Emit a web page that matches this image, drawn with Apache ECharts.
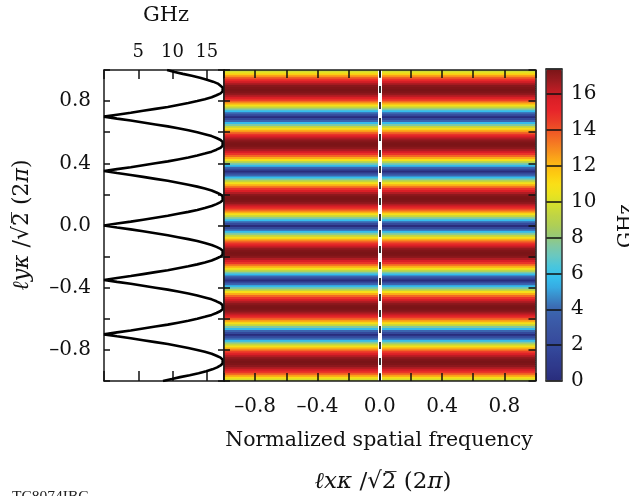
<!DOCTYPE html>
<html>
<head>
<meta charset="utf-8">
<script src="https://cdn.jsdelivr.net/npm/echarts@6/dist/echarts.min.js"></script>
<style>
html,body{margin:0;padding:0;background:#fff;}
#c{width:629px;height:496px;}
</style>
</head>
<body>
<div id="c"></div>
<script>
// Normalized spatial frequency (y) sample rows, from -1 to 1
const yRows = [
-1.0000,-0.9875,-0.9750,-0.9625,-0.9500,-0.9375,-0.9250,-0.9125,-0.9000,-0.8875,
-0.8750,-0.8625,-0.8500,-0.8375,-0.8250,-0.8125,-0.8000,-0.7875,-0.7750,-0.7625,
-0.7500,-0.7375,-0.7250,-0.7125,-0.7000,-0.6875,-0.6750,-0.6625,-0.6500,-0.6375,
-0.6250,-0.6125,-0.6000,-0.5875,-0.5750,-0.5625,-0.5500,-0.5375,-0.5250,-0.5125,
-0.5000,-0.4875,-0.4750,-0.4625,-0.4500,-0.4375,-0.4250,-0.4125,-0.4000,-0.3875,
-0.3750,-0.3625,-0.3500,-0.3375,-0.3250,-0.3125,-0.3000,-0.2875,-0.2750,-0.2625,
-0.2500,-0.2375,-0.2250,-0.2125,-0.2000,-0.1875,-0.1750,-0.1625,-0.1500,-0.1375,
-0.1250,-0.1125,-0.1000,-0.0875,-0.0750,-0.0625,-0.0500,-0.0375,-0.0250,-0.0125,
0.0000,
0.0125,0.0250,0.0375,0.0500,0.0625,0.0750,0.0875,0.1000,0.1125,0.1250,
0.1375,0.1500,0.1625,0.1750,0.1875,0.2000,0.2125,0.2250,0.2375,0.2500,
0.2625,0.2750,0.2875,0.3000,0.3125,0.3250,0.3375,0.3500,0.3625,0.3750,
0.3875,0.4000,0.4125,0.4250,0.4375,0.4500,0.4625,0.4750,0.4875,0.5000,
0.5125,0.5250,0.5375,0.5500,0.5625,0.5750,0.5875,0.6000,0.6125,0.6250,
0.6375,0.6500,0.6625,0.6750,0.6875,0.7000,0.7125,0.7250,0.7375,0.7500,
0.7625,0.7750,0.7875,0.8000,0.8125,0.8250,0.8375,0.8500,0.8625,0.8750,
0.8875,0.9000,0.9125,0.9250,0.9375,0.9500,0.9625,0.9750,0.9875,1.0000
];
// Frequency (GHz) read at each row
const ghz = [
8.6,9.9,11.1,12.5,13.8,14.9,15.8,16.5,17.0,17.3,
17.4,17.3,17.0,16.4,15.7,14.7,13.6,12.3,10.8,9.3,
7.5,5.7,3.9,1.9,0.0,1.9,3.9,5.7,7.5,9.3,
10.8,12.3,13.6,14.7,15.7,16.4,17.0,17.3,17.4,17.3,
17.0,16.4,15.7,14.7,13.6,12.3,10.8,9.3,7.5,5.7,
3.9,1.9,0.0,1.9,3.9,5.7,7.5,9.3,10.8,12.3,
13.6,14.7,15.7,16.4,17.0,17.3,17.4,17.3,17.0,16.4,
15.7,14.7,13.6,12.3,10.8,9.3,7.5,5.7,3.9,1.9,
0.0,
1.9,3.9,5.7,7.5,9.3,10.8,12.3,13.6,14.7,15.7,
16.4,17.0,17.3,17.4,17.3,17.0,16.4,15.7,14.7,13.6,
12.3,10.8,9.3,7.5,5.7,3.9,1.9,0.0,1.9,3.9,
5.7,7.5,9.3,10.8,12.3,13.6,14.7,15.7,16.4,17.0,
17.3,17.4,17.3,17.0,16.4,15.7,14.7,13.6,12.3,10.8,
9.3,7.5,5.7,3.9,1.9,0.0,1.9,3.9,5.7,7.5,
9.3,10.8,12.3,13.6,14.7,15.7,16.4,17.0,17.3,17.4,
17.3,17.1,16.6,15.9,15.0,14.0,12.8,11.5,10.3,9.2
];
const xRange = [-1, 1];          // spatial frequency extent of the map (x)
const dividerX = 0;              // dashed divider position
const ghzTicks = [5, 10, 15];
const freqLabels = [-0.8, -0.4, 0.0, 0.4, 0.8];
const cbTicks = [0, 2, 4, 6, 8, 10, 12, 14, 16];
const cbRange = [0, 17.4];

const FONT = 'DejaVu Serif';
const colors = ['#292c7c','#2d3687','#303d90','#33479a','#374d9e','#3a54a2','#3b5daa','#3b68b1',
 '#3a88c7','#37abe2','#35c0ee','#49c6dd','#69c8c1','#81c8a2','#99c973','#afcf55','#c1d543',
 '#d4df2d','#ebe31f','#fbde16','#fdc910','#fcb316','#f8931d','#f47523','#ef5725','#eb3c28',
 '#e7252a','#dc1f27','#ba1d24','#961a1f','#7a1417'];

const fmt = v => (Math.abs(v) < 1e-9 ? 0 : v).toFixed(1).replace('-', '\u2013');
const pick = (list) => (v) => list.some(t => Math.abs(t - v) < 1e-6) ? fmt(v) : '';
const pickInt = (list) => (v) => list.some(t => Math.abs(t - v) < 1e-6) ? String(Math.round(v)) : '';

const half = (yRows[1] - yRows[0]) / 2;
const lineData = ghz.map((v, i) => [v, yRows[i]]);
const mapData = ghz.map((v, i) => [xRange[0], yRows[i], v]);

const edge = { show: true, onZero: false, lineStyle: { color: '#1a1a1a', width: 1.5 } };
const cbEdge = { show: true, onZero: false, lineStyle: { color: '#333', width: 1.5 } };
const tickIn = (len) => ({ show: true, inside: true, length: len, lineStyle: { color: '#111', width: 1.5 } });
const noLab = { show: false };

const chart = echarts.init(document.getElementById('c'), null, { renderer: 'canvas' });
chart.setOption({
  animation: false,
  backgroundColor: '#ffffff',
  grid: [
    { left: 104, top: 70, width: 120, height: 311 },
    { left: 224, top: 70, width: 311.5, height: 311 },
    { left: 546, top: 69, width: 16, height: 312 }
  ],
  xAxis: [
    { gridIndex: 0, type: 'value', position: 'top', min: 0, max: 17.5, interval: 5,
      axisLine: edge, axisTick: tickIn(9), splitLine: { show: false },
      axisLabel: { show: true, margin: 9, fontFamily: FONT, fontSize: 18, color: '#111',
        formatter: pickInt(ghzTicks) } },
    { gridIndex: 0, type: 'value', position: 'bottom', min: 0, max: 17.5, interval: 5,
      axisLine: edge, axisTick: tickIn(10), splitLine: { show: false }, axisLabel: noLab },
    { gridIndex: 1, type: 'value', position: 'bottom', min: xRange[0], max: xRange[1], interval: 0.2,
      axisLine: edge, axisTick: tickIn(8), splitLine: { show: false }, z: 10,
      axisLabel: { show: true, margin: 16, fontFamily: FONT, fontSize: 20, color: '#111',
        formatter: pick(freqLabels) } },
    { gridIndex: 1, type: 'value', position: 'top', min: xRange[0], max: xRange[1], interval: 0.2,
      axisLine: edge, axisTick: tickIn(8), splitLine: { show: false }, axisLabel: noLab, z: 10 },
    { gridIndex: 2, type: 'value', position: 'bottom', min: 0, max: 1,
      axisLine: cbEdge, axisTick: noLab, splitLine: { show: false }, axisLabel: noLab, z: 10 },
    { gridIndex: 2, type: 'value', position: 'top', min: 0, max: 1,
      axisLine: cbEdge, axisTick: noLab, splitLine: { show: false }, axisLabel: noLab, z: 10 }
  ],
  yAxis: [
    { gridIndex: 0, type: 'value', position: 'left', min: -1, max: 1, interval: 0.2,
      axisLine: edge, axisTick: tickIn(6), splitLine: { show: false },
      axisLabel: { show: true, margin: 13, fontFamily: FONT, fontSize: 20, color: '#111',
        formatter: pick(freqLabels) } },
    { gridIndex: 0, type: 'value', position: 'right', min: -1, max: 1, interval: 0.2,
      axisLine: edge, axisTick: tickIn(6), splitLine: { show: false }, axisLabel: noLab },
    { gridIndex: 1, type: 'value', position: 'left', min: -1, max: 1, interval: 0.2,
      axisLine: edge, axisTick: tickIn(6), splitLine: { show: false }, axisLabel: noLab, z: 10 },
    { gridIndex: 1, type: 'value', position: 'right', min: -1, max: 1, interval: 0.2,
      axisLine: edge, axisTick: tickIn(7), splitLine: { show: false }, axisLabel: noLab, z: 10 },
    { gridIndex: 2, type: 'value', position: 'right', min: cbRange[0], max: cbRange[1], interval: 2,
      axisLine: cbEdge, axisTick: noLab,
      splitLine: { show: true, lineStyle: { color: '#111', width: 1.5 } }, z: 10,
      axisLabel: { show: true, margin: 9, fontFamily: FONT, fontSize: 20, color: '#111',
        showMaxLabel: false, formatter: pickInt(cbTicks) } },
    { gridIndex: 2, type: 'value', position: 'left', min: cbRange[0], max: cbRange[1], interval: 2,
      axisLine: cbEdge, axisTick: noLab, splitLine: { show: false }, axisLabel: noLab, z: 10 }
  ],
  visualMap: {
    type: 'continuous', show: true, seriesIndex: 1, dimension: 2,
    min: cbRange[0], max: cbRange[1], calculable: false, hoverLink: false,
    left: 546, top: 69, itemWidth: 16, itemHeight: 312, padding: 0,
    inRange: { color: colors }, text: null
  },
  series: [
    { type: 'line', xAxisIndex: 0, yAxisIndex: 0, data: lineData, showSymbol: false,
      symbol: 'none', smooth: false, lineStyle: { color: '#000', width: 2.6 }, z: 3, silent: true },
    { type: 'custom', xAxisIndex: 2, yAxisIndex: 2, data: mapData, clip: true, silent: true,
      encode: { x: 0, y: 1 },
      renderItem: function (params, api) {
        const y = api.value(1);
        const a = api.coord([xRange[0], y + half]);
        const b = api.coord([xRange[1], y - half]);
        return { type: 'rect',
          shape: { x: a[0], y: a[1] - 0.5, width: b[0] - a[0], height: b[1] - a[1] + 1 },
          style: { fill: api.visual('color') } };
      },
      markLine: {
        silent: true, symbol: 'none', label: { show: false }, animation: false,
        data: [
          { xAxis: dividerX, lineStyle: { color: '#ffffff', width: 4, type: 'solid' } },
          { xAxis: dividerX, lineStyle: { color: '#000000', width: 1.6, type: [7, 9] } }
        ]
      }
    }
  ],
  graphic: [
    { type: 'text', x: 166, y: 16, style: { text: 'GHz', font: '21px "DejaVu Serif"', fill: '#111',
      textAlign: 'center', textVerticalAlign: 'middle' } },
    { type: 'text', x: 379, y: 441, style: { text: 'Normalized spatial frequency',
      font: '20.5px "DejaVu Serif"', fill: '#111', textAlign: 'center', textVerticalAlign: 'middle' } },
    { type: 'text', x: 383, y: 482, style: {
      text: '{i|\u2113x\u03ba} /\u221a2\u0305 (2{i|\u03c0})',
      font: '23px "DejaVu Serif"', fill: '#111', textAlign: 'center', textVerticalAlign: 'middle',
      rich: { i: { fontFamily: FONT, fontStyle: 'italic', fontSize: 23, fill: '#111' } } } },
    { type: 'text', x: 22, y: 225, rotation: Math.PI / 2, style: {
      text: '{i|\u2113y\u03ba} /\u221a2\u0305 (2{i|\u03c0})',
      font: '22px "DejaVu Serif"', fill: '#111', textAlign: 'center', textVerticalAlign: 'middle',
      rich: { i: { fontFamily: FONT, fontStyle: 'italic', fontSize: 22, fill: '#111' } } } },
    { type: 'text', x: 627, y: 226, rotation: Math.PI / 2, style: { text: 'GHz',
      font: '20px "DejaVu Serif"', fill: '#111', textAlign: 'center', textVerticalAlign: 'middle' } },
    { type: 'text', x: 12, y: 488.5, style: { text: 'TC8074IBC', font: '15.5px "Liberation Serif"',
      fill: '#222', textAlign: 'left', textVerticalAlign: 'top' } }
  ]
});
</script>
</body>
</html>
